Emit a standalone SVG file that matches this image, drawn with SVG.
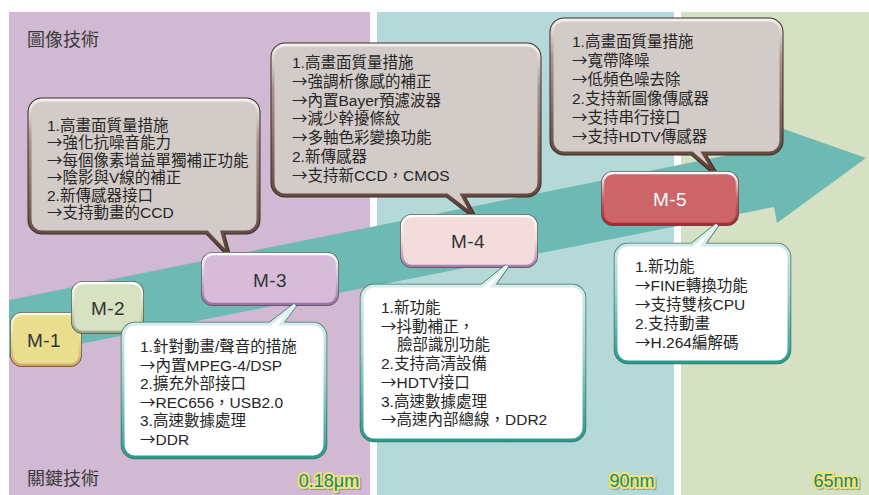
<svg xmlns="http://www.w3.org/2000/svg" width="869" height="495" viewBox="0 0 869 495">
<style>
.title{font-family:"Noto Sans CJK TC","Noto Sans CJK SC",sans-serif;font-size:18px;fill:#3a3a3a}
.ct{font-family:"Liberation Sans","Noto Sans CJK TC",sans-serif;font-size:15.5px;fill:#262626}
.ar{font-family:"Noto Sans CJK TC","Noto Sans CJK SC",sans-serif}
.ml{font-family:"Liberation Sans",Arial,sans-serif;font-size:19px;fill:#333;text-anchor:middle;letter-spacing:0.5px}
.node-label{font-family:"Liberation Sans",Arial,sans-serif;font-size:18px;fill:#15896c;stroke:#f0e27c;stroke-width:4px;paint-order:stroke;stroke-linejoin:round;text-anchor:middle}
.lshadow{font-family:"Liberation Sans",Arial,sans-serif;font-size:18px;fill:#6d6858;stroke:#6d6858;stroke-width:4px;stroke-linejoin:round;text-anchor:middle;opacity:0.5}
.gout{fill:none;stroke:#3e2b25;stroke-width:5}
.gin{fill:#d3cbc8;stroke:url(#gGrad);stroke-width:3}
.wout{fill:none;stroke:#3d6f69;stroke-width:4.5}
.win{fill:#fff;stroke:url(#wGrad);stroke-width:3}
.mout{fill:none;stroke:#55504f;stroke-width:4}
</style>
<defs>
<linearGradient id="gGrad" x1="0" y1="0" x2="0" y2="1">
<stop offset="0" stop-color="#f4f0ee"/><stop offset="0.25" stop-color="#a8958f"/><stop offset="1" stop-color="#5a3d34"/>
</linearGradient>
<linearGradient id="wGrad" x1="0" y1="0" x2="0" y2="1">
<stop offset="0" stop-color="#e6f4f2"/><stop offset="0.5" stop-color="#9fd4cd"/><stop offset="1" stop-color="#2a9a8d"/>
</linearGradient>
<linearGradient id="m1g" x1="0" y1="0" x2="0" y2="1"><stop offset="0" stop-color="#fffbe0"/><stop offset="0.5" stop-color="#e8de8e"/><stop offset="1" stop-color="#d9a25e"/></linearGradient>
<linearGradient id="m2g" x1="0" y1="0" x2="0" y2="1"><stop offset="0" stop-color="#ffffff"/><stop offset="0.5" stop-color="#d6e2c1"/><stop offset="1" stop-color="#9aa88a"/></linearGradient>
<linearGradient id="m3g" x1="0" y1="0" x2="0" y2="1"><stop offset="0" stop-color="#ffffff"/><stop offset="0.5" stop-color="#d6bcd9"/><stop offset="1" stop-color="#9c72a8"/></linearGradient>
<linearGradient id="m4g" x1="0" y1="0" x2="0" y2="1"><stop offset="0" stop-color="#ffffff"/><stop offset="0.5" stop-color="#f3dcdc"/><stop offset="1" stop-color="#a67cb3"/></linearGradient>
<linearGradient id="m5g" x1="0" y1="0" x2="0" y2="1"><stop offset="0" stop-color="#ffffff"/><stop offset="0.5" stop-color="#cc6468"/><stop offset="1" stop-color="#a82838"/></linearGradient>
</defs>

<g id="background">
<rect x="9" y="12" width="361" height="483" fill="#d1b8d3"/>
<rect x="377" y="12" width="297" height="483" fill="#b5d9d9"/>
<rect x="681" y="12" width="188" height="483" fill="#d5e1c2"/>
<polygon points="9,300 778,145 781,128 866,158 777,223 774,207 9,358" fill="#6dbab5"/>
<text class="title" x="27" y="46">圖像技術</text>
<text class="title" x="27" y="485">關鍵技術</text>
<text class="lshadow" x="330.2" y="488.2">0.18μm</text>
<text class="node-label" x="329" y="487">0.18μm</text>
<text class="lshadow" x="633.2" y="488.2">90nm</text>
<text class="node-label" x="632" y="487">90nm</text>
<text class="lshadow" x="837.2" y="488.2">65nm</text>
<text class="node-label" x="836" y="487">65nm</text>
</g>

<g id="connectors"></g>

<g id="callout-a">
<path class="gout" d="M42,100 H246 A12,12 0 0 1 258,112 V220 A12,12 0 0 1 246,232 H222 L228,254 L207,232 H42 A12,12 0 0 1 30,220 V112 A12,12 0 0 1 42,100 Z"/>
<path class="gin" d="M42,100 H246 A12,12 0 0 1 258,112 V220 A12,12 0 0 1 246,232 H222 L228,254 L207,232 H42 A12,12 0 0 1 30,220 V112 A12,12 0 0 1 42,100 Z"/>
<text class="ct"><tspan x="47" y="131">1.高畫面質量措施</tspan><tspan x="47" y="148.4"><tspan class="ar">→</tspan>強化抗噪音能力</tspan><tspan x="47" y="165.8"><tspan class="ar">→</tspan>每個像素增益單獨補正功能</tspan><tspan x="47" y="183.2"><tspan class="ar">→</tspan>陰影與V線的補正</tspan><tspan x="47" y="200.6">2.新傳感器接口</tspan><tspan x="47" y="218"><tspan class="ar">→</tspan>支持動畫的CCD</tspan></text>
</g>

<g id="callout-b">
<path class="gout" d="M285,45 H527 A12,12 0 0 1 539,57 V183 A12,12 0 0 1 527,195 H462 L473,215 L447,195 H285 A12,12 0 0 1 273,183 V57 A12,12 0 0 1 285,45 Z"/>
<path class="gin" d="M285,45 H527 A12,12 0 0 1 539,57 V183 A12,12 0 0 1 527,195 H462 L473,215 L447,195 H285 A12,12 0 0 1 273,183 V57 A12,12 0 0 1 285,45 Z"/>
<text class="ct"><tspan x="292" y="68">1.高畫面質量措施</tspan><tspan x="292" y="86.8"><tspan class="ar">→</tspan>強調析像感的補正</tspan><tspan x="292" y="105.6"><tspan class="ar">→</tspan>內置Bayer預濾波器</tspan><tspan x="292" y="124.4"><tspan class="ar">→</tspan>減少幹擾條紋</tspan><tspan x="292" y="143.2"><tspan class="ar">→</tspan>多軸色彩變換功能</tspan><tspan x="292" y="162">2.新傳感器</tspan><tspan x="292" y="180.8"><tspan class="ar">→</tspan>支持新CCD，CMOS</tspan></text>
</g>

<g id="callout-c">
<path class="gout" d="M564,20 H769 A12,12 0 0 1 781,32 V141 A12,12 0 0 1 769,153 H703 L715,173 L692,153 H564 A12,12 0 0 1 552,141 V32 A12,12 0 0 1 564,20 Z"/>
<path class="gin" d="M564,20 H769 A12,12 0 0 1 781,32 V141 A12,12 0 0 1 769,153 H703 L715,173 L692,153 H564 A12,12 0 0 1 552,141 V32 A12,12 0 0 1 564,20 Z"/>
<text class="ct"><tspan x="572" y="47">1.高畫面質量措施</tspan><tspan x="572" y="66"><tspan class="ar">→</tspan>寬帶降噪</tspan><tspan x="572" y="85"><tspan class="ar">→</tspan>低頻色噪去除</tspan><tspan x="572" y="104">2.支持新圖像傳感器</tspan><tspan x="572" y="123"><tspan class="ar">→</tspan>支持串行接口</tspan><tspan x="572" y="142"><tspan class="ar">→</tspan>支持HDTV傳感器</tspan></text>
</g>

<g id="M-1">
<rect class="mout" x="12" y="314" width="68" height="51" rx="10"/>
<rect x="12" y="314" width="68" height="51" rx="10" fill="#e8de8e" stroke="url(#m1g)" stroke-width="2.5"/>
<text class="ml" x="44" y="347">M-1</text>
</g>
<g id="M-2">
<rect class="mout" x="73" y="283" width="69" height="49" rx="10"/>
<rect x="73" y="283" width="69" height="49" rx="10" fill="#d6e2c1" stroke="url(#m2g)" stroke-width="2.5"/>
<text class="ml" x="108" y="315">M-2</text>
</g>
<g id="M-3">
<rect class="mout" x="203" y="254" width="134" height="50" rx="10"/>
<rect x="203" y="254" width="134" height="50" rx="10" fill="#d6bcd9" stroke="url(#m3g)" stroke-width="2.5"/>
<text class="ml" x="270" y="287">M-3</text>
</g>
<g id="M-4">
<rect class="mout" x="402" y="216" width="134" height="50" rx="10"/>
<rect x="402" y="216" width="134" height="50" rx="10" fill="#f3dcdc" stroke="url(#m4g)" stroke-width="2.5"/>
<text class="ml" x="468" y="248">M-4</text>
</g>
<g id="M-5">
<rect class="mout" x="603" y="173" width="134" height="51" rx="10"/>
<rect x="603" y="173" width="134" height="51" rx="10" fill="#cc6468" stroke="url(#m5g)" stroke-width="2.5"/>
<text class="ml" x="670" y="206" style="fill:#fff">M-5</text>
</g>

<g id="callout-m3">
<path class="wout" d="M135,324 H270 L295,305 L281,324 H313 A12,12 0 0 1 325,336 V445 A12,12 0 0 1 313,457 H135 A12,12 0 0 1 123,445 V336 A12,12 0 0 1 135,324 Z"/>
<path class="win" d="M135,324 H270 L295,305 L281,324 H313 A12,12 0 0 1 325,336 V445 A12,12 0 0 1 313,457 H135 A12,12 0 0 1 123,445 V336 A12,12 0 0 1 135,324 Z"/>
<text class="ct"><tspan x="140" y="352">1.針對動畫/聲音的措施</tspan><tspan x="140" y="370.6"><tspan class="ar">→</tspan>內置MPEG-4/DSP</tspan><tspan x="140" y="389.2">2.擴充外部接口</tspan><tspan x="140" y="407.8"><tspan class="ar">→</tspan>REC656，USB2.0</tspan><tspan x="140" y="426.4">3.高速數據處理</tspan><tspan x="140" y="445"><tspan class="ar">→</tspan>DDR</tspan></text>
</g>

<g id="callout-m4">
<path class="wout" d="M374,286 H482 L507,266 L493,286 H572 A12,12 0 0 1 584,298 V428 A12,12 0 0 1 572,440 H374 A12,12 0 0 1 362,428 V298 A12,12 0 0 1 374,286 Z"/>
<path class="win" d="M374,286 H482 L507,266 L493,286 H572 A12,12 0 0 1 584,298 V428 A12,12 0 0 1 572,440 H374 A12,12 0 0 1 362,428 V298 A12,12 0 0 1 374,286 Z"/>
<text class="ct"><tspan x="381" y="313">1.新功能</tspan><tspan x="381" y="331.7"><tspan class="ar">→</tspan>抖動補正，</tspan><tspan x="397" y="350.4">臉部識別功能</tspan><tspan x="381" y="369.1">2.支持高清設備</tspan><tspan x="381" y="387.8"><tspan class="ar">→</tspan>HDTV接口</tspan><tspan x="381" y="406.5">3.高速數據處理</tspan><tspan x="381" y="425.2"><tspan class="ar">→</tspan>高速內部總線，DDR2</tspan></text>
</g>

<g id="callout-m5">
<path class="wout" d="M628,245 H692 L717,225 L703,245 H777 A12,12 0 0 1 789,257 V350 A12,12 0 0 1 777,362 H628 A12,12 0 0 1 616,350 V257 A12,12 0 0 1 628,245 Z"/>
<path class="win" d="M628,245 H692 L717,225 L703,245 H777 A12,12 0 0 1 789,257 V350 A12,12 0 0 1 777,362 H628 A12,12 0 0 1 616,350 V257 A12,12 0 0 1 628,245 Z"/>
<text class="ct"><tspan x="635" y="272">1.新功能</tspan><tspan x="635" y="291"><tspan class="ar">→</tspan>FINE轉換功能</tspan><tspan x="635" y="310"><tspan class="ar">→</tspan>支持雙核CPU</tspan><tspan x="635" y="329">2.支持動畫</tspan><tspan x="635" y="348"><tspan class="ar">→</tspan>H.264編解碼</tspan></text>
</g>
</svg>
